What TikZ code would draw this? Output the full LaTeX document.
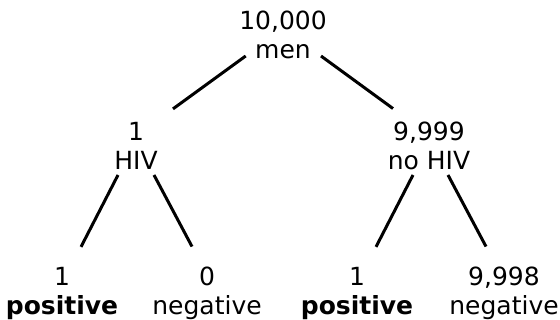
\documentclass[tikz,border=0pt]{standalone}
\usepackage{fontspec}
\setmainfont{DejaVu Sans}
\usetikzlibrary{calc}
\begin{document}
\begin{tikzpicture}[x=1pt,y=-1pt,
  lab/.style={align=center,inner sep=0pt,anchor=south,text depth=0pt,
    font=\fontsize{25}{29.5}\selectfont},
  edge/.style={line width=3pt}]
\useasboundingbox (0,0) rectangle (560,320);
\node[lab] (root)  at (283,59)  {10,000\\men};
\node[lab] (hiv)   at (136,170) {1\\HIV};
\node[lab] (nohiv) at (429,170) {9,999\\no HIV};
\node[lab] (pos1)  at (62,315)  {1\\\textbf{positive}};
\node[lab] (neg1)  at (207,315) {0\\negative};
\node[lab] (pos2)  at (357,315) {1\\\textbf{positive}};
\node[lab] (neg2)  at (504,315) {9,998\\negative};
\draw[edge] ($(root.south)+(-37.3,-3)$) -- ($(hiv.north)+(37,-13)$);
\draw[edge] ($(root.south)+(38,-3)$) -- ($(nohiv.north)+(-36,-13)$);
\draw[edge] ($(hiv.south)+(-18,5)$) -- ($(pos1.north)+(19,-20)$);
\draw[edge] ($(hiv.south)+(18,5)$) -- ($(neg1.north)+(-15,-20)$);
\draw[edge] ($(nohiv.south)+(-16,5)$) -- ($(pos2.north)+(19,-20)$);
\draw[edge] ($(nohiv.south)+(19,5)$) -- ($(neg2.north)+(-18,-20)$);
\end{tikzpicture}
\end{document}
